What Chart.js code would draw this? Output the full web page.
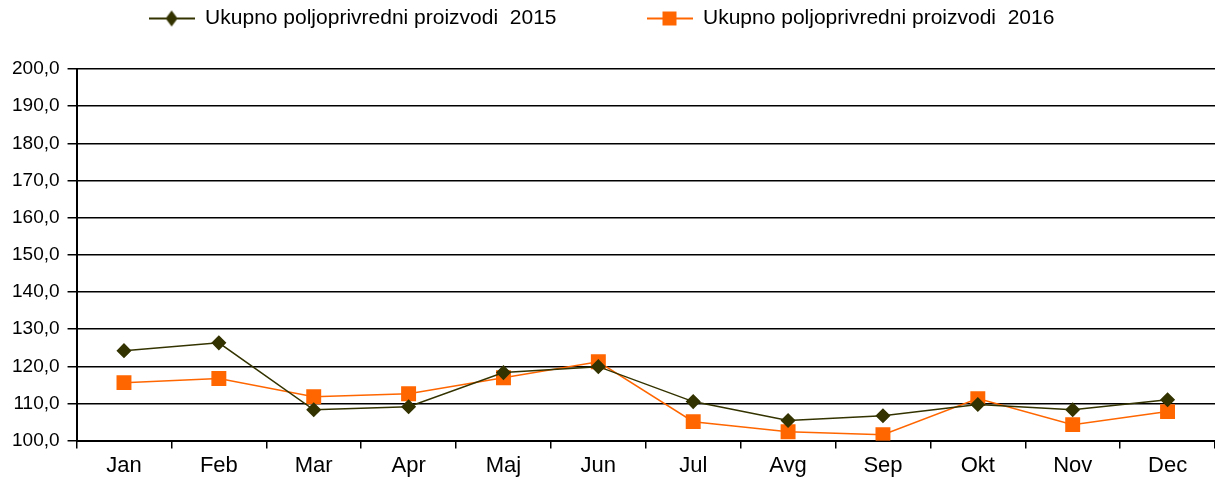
<!DOCTYPE html>
<html>
<head>
<meta charset="utf-8">
<script src="https://cdn.jsdelivr.net/npm/chart.js@4/dist/chart.umd.min.js"></script>
<style>
  html, body { margin: 0; padding: 0; background: #fff; overflow: hidden; }
  #wrap { width: 1215px; height: 483px; position: relative; }
  canvas { display: block; }
</style>
</head>
<body>
<div id="wrap"><canvas id="lineChart"></canvas></div>
<script>
// data
const months = ["Jan", "Feb", "Mar", "Apr", "Maj", "Jun", "Jul", "Avg", "Sep", "Okt", "Nov", "Dec"];
const values2015 = [124.2, 126.3, 108.3, 109.1, 118.3, 119.9, 110.5, 105.4, 106.7, 109.7, 108.3, 111.0];
const values2016 = [115.6, 116.7, 111.8, 112.6, 116.9, 121.2, 105.1, 102.4, 101.6, 111.3, 104.3, 107.8];
const label2015 = "Ukupno poljoprivredni proizvodi  2015";
const label2016 = "Ukupno poljoprivredni proizvodi  2016";
const color2015 = "#333300";
const color2016 = "#FF6600";

const fontFamily = "'Liberation Sans', Arial, sans-serif";
const legendGap = 90; // horizontal space between legend items
const legendTop = 8; // where the legend row starts
const legendShiftX = -9; // legend sits a bit left of centre
const legendHeight = 69; // space kept above the plot

// small legend icon: line with marker in the middle
function legendIcon(color, shape) {
  const c = document.createElement("canvas");
  c.width = 46;
  c.height = 18;
  const ctx = c.getContext("2d");
  ctx.strokeStyle = color;
  ctx.fillStyle = color;
  ctx.lineWidth = 2;
  ctx.beginPath();
  ctx.moveTo(0, 9);
  ctx.lineTo(46, 9);
  ctx.stroke();
  ctx.beginPath();
  if (shape === "diamond") {
    ctx.moveTo(23, 1);
    ctx.lineTo(29, 9);
    ctx.lineTo(23, 17);
    ctx.lineTo(17, 9);
    ctx.closePath();
  } else {
    ctx.rect(16, 2, 14, 14);
  }
  ctx.fill();
  return c;
}
const icons = [legendIcon(color2015, "diamond"), legendIcon(color2016, "square")];

//legend padding is used both for the gap between items and above/below them,
//so the height and the row position are put back here
const legendFix = {
  id: "legendFix",
  beforeInit(chart) {
    const legend = chart.legend;
    if (!legend) return;
    const fit = legend.fit.bind(legend);
    legend.fit = function () {
      fit();
      this.height = legendHeight;
      this.minSize = { width: this.width, height: legendHeight };
    };
    const draw = legend._draw.bind(legend);
    legend._draw = function () {
      const oldTop = this.top;
      const oldLeft = this.left;
      const oldRight = this.right;
      this.top = oldTop - legendGap + legendTop;
      this.left = oldLeft + legendShiftX;
      this.right = oldRight + legendShiftX;
      draw();
      this.top = oldTop;
      this.left = oldLeft;
      this.right = oldRight;
    };
  },
};

const lineData = {
  labels: months,
  datasets: [
    {
      label: label2015,
      data: values2015,
      borderColor: color2015,
      backgroundColor: color2015,
      borderWidth: 1.5,
      pointStyle: "rectRot",
      pointRadius: 6.5,
      pointHoverRadius: 6.5,
      tension: 0,
    },
    {
      label: label2016,
      data: values2016,
      borderColor: color2016,
      backgroundColor: color2016,
      borderWidth: 1.5,
      pointStyle: "rect",
      pointRadius: 9.5,
      pointHoverRadius: 9.5,
      tension: 0,
    },
  ],
};

const lineConfig = {
  type: "line",
  data: lineData,
  plugins: [legendFix],
  options: {
    responsive: true,
    maintainAspectRatio: false,
    animation: false,
    layout: { autoPadding: false, padding: { left: 4, right: -2, top: 0, bottom: 0 } },
    plugins: {
      tooltip: { enabled: false },
      legend: {
        position: "top",
        labels: {
          usePointStyle: true,
          pointStyleWidth: 46,
          boxHeight: 18,
          color: "#000",
          font: { family: fontFamily, size: 21 },
          padding: legendGap,
          generateLabels: (chart) =>
            chart.data.datasets.map((ds, i) => ({
              text: ds.label,
              pointStyle: icons[i],
              fillStyle: ds.borderColor,
              strokeStyle: ds.borderColor,
              lineWidth: 0,
              datasetIndex: i,
              fontColor: "#000",
            })),
        },
      },
    },
    scales: {
      x: {
        offset: true,
        afterFit: (scale) => {
          scale.paddingRight = 0;
        },
        grid: {
          offset: true,
          drawOnChartArea: false,
          color: "#000",
          tickLength: 8,
          lineWidth: 1.5,
        },
        border: { color: "#000", width: 2 },
        ticks: {
          color: "#000",
          font: { family: fontFamily, size: 22 },
          padding: 4,
          maxRotation: 0,
        },
      },
      y: {
        min: 100,
        max: 200,
        ticks: {
          stepSize: 10,
          color: "#000",
          font: { family: fontFamily, size: 19 },
          padding: 8,
          callback: (v) => v.toFixed(1).replace(".", ","),
        },
        grid: { color: "#000", lineWidth: 1.5, tickLength: 9 },
        border: { color: "#000", width: 2 },
      },
    },
  },
};

window.addEventListener("DOMContentLoaded", () => {
  new Chart(document.getElementById("lineChart"), lineConfig);
});
</script>
</body>
</html>
